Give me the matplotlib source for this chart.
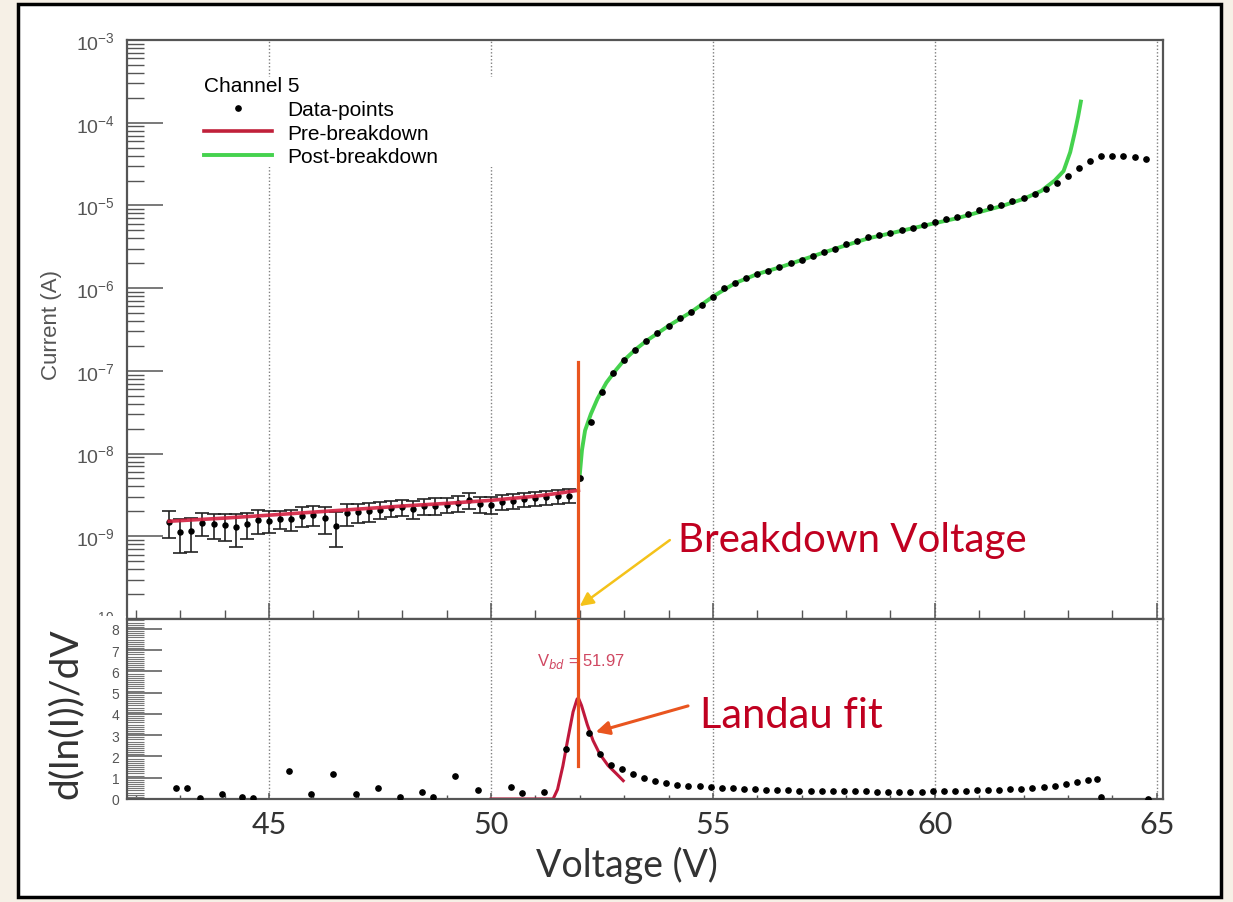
import numpy as np
import matplotlib
matplotlib.use("Agg")
import matplotlib.pyplot as plt
from matplotlib.patches import Rectangle
from matplotlib.lines import Line2D
from matplotlib.ticker import MultipleLocator, LogLocator, FuncFormatter, NullFormatter

plt.rcParams['font.family'] = ['Liberation Sans', 'DejaVu Sans']
plt.rcParams['mathtext.fontset'] = 'custom'
plt.rcParams['mathtext.rm'] = 'Liberation Sans'

# I-V scan, channel 5: below breakdown (current in nA, with errors)
pre_v = [42.75, 43.0, 43.25, 43.5, 43.75, 44.0, 44.25, 44.5, 44.75, 45.0, 45.25, 45.5,
         45.75, 46.0, 46.25, 46.5, 46.75, 47.0, 47.25, 47.5, 47.75, 48.0, 48.25, 48.5,
         48.75, 49.0, 49.25, 49.5, 49.75, 50.0, 50.25, 50.5, 50.75, 51.0, 51.25, 51.5, 51.75]
pre_na = [1.48, 1.12, 1.15, 1.45, 1.40, 1.38, 1.30, 1.42, 1.58, 1.55, 1.62, 1.60,
          1.78, 1.82, 1.68, 1.35, 1.90, 1.95, 2.02, 2.10, 2.18, 2.25, 2.15, 2.30,
          2.35, 2.42, 2.50, 2.75, 2.45, 2.40, 2.60, 2.68, 2.80, 2.90, 2.95, 3.05, 3.10]
pre_err_na = [0.52, 0.50, 0.50, 0.45, 0.48, 0.50, 0.55, 0.48, 0.50, 0.45, 0.40, 0.45,
              0.50, 0.48, 0.60, 0.60, 0.55, 0.50, 0.52, 0.50, 0.48, 0.50, 0.52, 0.50,
              0.52, 0.50, 0.55, 0.60, 0.55, 0.55, 0.52, 0.55, 0.55, 0.55, 0.58, 0.58, 0.60]

# above breakdown (A)
post_v = [52.0, 52.25, 52.5, 52.75, 53.0, 53.25, 53.5, 53.75, 54.0, 54.25, 54.5, 54.75,
          55.0, 55.25, 55.5, 55.75, 56.0, 56.25, 56.5, 56.75, 57.0, 57.25, 57.5, 57.75,
          58.0, 58.25, 58.5, 58.75, 59.0, 59.25, 59.5, 59.75, 60.0, 60.25, 60.5, 60.75,
          61.0, 61.25, 61.5, 61.75, 62.0, 62.25, 62.5, 62.75, 63.0, 63.25, 63.5, 63.75,
          64.0, 64.25, 64.5, 64.75]
post_i = [5.0e-9, 2.4e-8, 5.6e-8, 9.3e-8, 1.35e-7, 1.8e-7, 2.3e-7, 2.9e-7, 3.5e-7, 4.3e-7,
          5.1e-7, 6.2e-7, 7.9e-7, 1.0e-6, 1.15e-6, 1.32e-6, 1.48e-6, 1.62e-6, 1.78e-6, 2.0e-6,
          2.19e-6, 2.45e-6, 2.7e-6, 3.0e-6, 3.4e-6, 3.7e-6, 4.1e-6, 4.4e-6, 4.7e-6, 5.0e-6,
          5.4e-6, 5.75e-6, 6.3e-6, 6.8e-6, 7.2e-6, 7.9e-6, 8.7e-6, 9.5e-6, 1.02e-5, 1.12e-5,
          1.23e-5, 1.38e-5, 1.58e-5, 1.86e-5, 2.3e-5, 2.8e-5, 3.4e-5, 4.0e-5,
          4.0e-5, 4.0e-5, 3.8e-5, 3.6e-5]

# fitted curves
pre_fit_v = [42.75, 44.0, 45.0, 46.0, 47.0, 48.0, 49.0, 50.0, 51.0, 51.5, 51.97]
pre_fit_i = [1.52e-9, 1.66e-9, 1.80e-9, 1.96e-9, 2.13e-9, 2.32e-9, 2.5e-9, 2.72e-9,
             3.05e-9, 3.3e-9, 3.6e-9]
post_fit_v = [51.99, 52.05, 52.12, 52.25, 52.4, 52.6, 52.8, 53.0, 53.25, 53.5, 54.0, 54.5,
              55.0, 55.5, 56.0, 56.5, 57.0, 57.5, 58.0, 58.5, 59.0, 59.5, 60.0, 60.5,
              61.0, 61.5, 62.0, 62.4, 62.7, 62.9, 63.05, 63.15, 63.23, 63.29]
post_fit_i = [4.8e-9, 1.1e-8, 1.9e-8, 3.0e-8, 4.6e-8, 7.2e-8, 1.0e-7, 1.35e-7, 1.8e-7,
              2.3e-7, 3.5e-7, 5.1e-7, 7.9e-7, 1.15e-6, 1.48e-6, 1.78e-6, 2.19e-6, 2.7e-6,
              3.3e-6, 4.0e-6, 4.6e-6, 5.3e-6, 6.1e-6, 7.0e-6, 8.3e-6, 9.8e-6, 1.2e-5,
              1.5e-5, 2.0e-5, 2.6e-5, 4.4e-5, 7.5e-5, 1.2e-4, 1.8e-4]

# logarithmic derivative d(ln I)/dV
deriv_v = [42.9, 43.15, 43.45, 43.95, 44.4, 44.65, 45.45, 45.95, 46.45, 46.95, 47.45, 47.95,
           48.45, 48.7, 49.2, 49.7, 50.45, 50.7, 51.2, 51.7, 52.2, 52.45, 52.7, 52.95,
           53.2, 53.45, 53.7, 53.95, 54.2, 54.45, 54.7, 54.95, 55.2, 55.45, 55.7, 55.95,
           56.2, 56.45, 56.7, 56.95, 57.2, 57.45, 57.7, 57.95, 58.2, 58.45, 58.7, 58.95,
           59.2, 59.45, 59.7, 59.95, 60.2, 60.45, 60.7, 60.95, 61.2, 61.45, 61.7, 61.95,
           62.2, 62.45, 62.7, 62.95, 63.2, 63.45, 63.65, 63.75, 64.8]
deriv_val = [0.50, 0.50, 0.05, 0.24, 0.08, 0.05, 1.33, 0.24, 1.18, 0.24, 0.50, 0.08,
             0.31, 0.08, 1.10, 0.44, 0.55, 0.28, 0.33, 2.37, 3.10, 2.10, 1.60, 1.40,
             1.18, 0.97, 0.86, 0.75, 0.68, 0.63, 0.60, 0.55, 0.52, 0.50, 0.47, 0.45,
             0.43, 0.42, 0.40, 0.39, 0.38, 0.37, 0.37, 0.36, 0.36, 0.36, 0.35, 0.35,
             0.35, 0.35, 0.35, 0.36, 0.36, 0.37, 0.38, 0.40, 0.41, 0.43, 0.45, 0.48,
             0.52, 0.56, 0.62, 0.70, 0.78, 0.88, 0.95, 0.08, 0.02]

landau_v = [50.0, 51.4, 51.5, 51.62, 51.73, 51.85, 51.94, 51.97, 52.04, 52.17, 52.3,
            52.45, 52.64, 52.83, 52.98]
landau_val = [0.0, 0.0, 0.45, 1.55, 2.8, 4.1, 4.7, 4.75, 4.4, 3.5, 2.75, 2.12, 1.57, 1.18, 0.86]

v_bd = 51.97

RED_TXT = '#c00020'
ORANGE = '#e9551f'
GRID = '#808080'
SPINE = '#555555'
ROOT_TXT = '#555555'

fig = plt.figure(figsize=(12.33, 9.03), dpi=100, facecolor='#f6f0e6')
fig.add_artist(Rectangle((18 / 1233, 5 / 903), 1203 / 1233, 893 / 903,
                         transform=fig.transFigure, facecolor='white',
                         edgecolor='black', lw=2.5, zorder=-5))

ax_top = fig.add_axes([0.1030, 0.3134, 0.8402, 0.6412])
ax_bot = fig.add_axes([0.1030, 0.1141, 0.8402, 0.1993], sharex=ax_top)
ax_bot.set_zorder(2)

# hides the lower half of the 10^-10 label, as the lower pad does
fig.add_artist(Rectangle((24 / 1233, 1 - 806 / 903), 102 / 1233, 189 / 903,
                         transform=fig.transFigure, facecolor='white',
                         edgecolor='none', zorder=1))

for ax in (ax_top, ax_bot):
    ax.set_axisbelow(True)
    ax.grid(True, axis='x', which='major', ls=(0, (1, 1.5)), color=GRID, lw=1.0)
    for sp in ax.spines.values():
        sp.set_color(SPINE)
        sp.set_linewidth(1.6)

# ---- upper pad: I-V curve ----
ax_top.set_yscale('log')
ax_top.set_xlim(41.8, 65.14)
ax_top.set_ylim(1e-10, 1e-3)
ax_top.xaxis.set_major_locator(MultipleLocator(5))
ax_top.xaxis.set_minor_locator(MultipleLocator(1))
ax_top.yaxis.set_major_locator(LogLocator(base=10, numticks=20))
ax_top.yaxis.set_minor_locator(LogLocator(base=10, subs=np.arange(2, 10), numticks=20))
ax_top.yaxis.set_minor_formatter(NullFormatter())
ax_top.yaxis.set_major_formatter(
    FuncFormatter(lambda v, p: r'$\mathregular{10^{%d}}$' % round(np.log10(v))))
ax_top.tick_params(axis='y', which='major', direction='in', length=26, width=1.1,
                   color=SPINE, labelsize=14, labelcolor=ROOT_TXT, pad=9, right=False)
ax_top.tick_params(axis='y', which='minor', direction='in', length=12, width=1.0,
                   color=SPINE, right=False)
ax_top.tick_params(axis='x', which='major', direction='in', length=11.5, width=1.1,
                   color=SPINE, top=False, labelbottom=False)
ax_top.tick_params(axis='x', which='minor', direction='in', length=6.5, width=1.0,
                   color=SPINE, top=False)

pre_i = np.array(pre_na) * 1e-9
pre_err = np.array(pre_err_na) * 1e-9
ax_top.errorbar(pre_v, pre_i, yerr=pre_err, fmt='o', ms=3.6, color='black',
                ecolor='#222222', elinewidth=1.2, capsize=5, capthick=1.2, zorder=3)
ax_top.plot(post_fit_v, post_fit_i, color='#45d24e', lw=2.8, zorder=2)
ax_top.plot(post_v, post_i, 'o', ms=3.8, color='black', zorder=3)
ax_top.plot(pre_fit_v, pre_fit_i, color='#d42040', lw=2.6, alpha=0.9, zorder=4)
ax_top.axvline(v_bd, ymin=0, ymax=0.444, color=ORANGE, lw=2.3, zorder=5)

ax_top.set_ylabel('Current (A)', fontsize=16, color=ROOT_TXT)
ax_top.yaxis.set_label_coords(-0.063, 0.51)

# legend on a white block that interrupts the grid
ax_top.add_patch(Rectangle((0.061, 0.781), 0.304, 0.155, transform=ax_top.transAxes,
                           facecolor='white', edgecolor='none', zorder=1.5))
handles = [Line2D([], [], marker='o', ms=3.8, color='black', ls='none'),
           Line2D([], [], color='#c0203a', lw=2.6),
           Line2D([], [], color='#45d24e', lw=2.8)]
ax_top.legend(handles, ['Data-points', 'Pre-breakdown', 'Post-breakdown'],
              title='Channel 5', loc='upper left', bbox_to_anchor=(0.0745, 0.937),
              frameon=False, alignment='left', handlelength=3.27, handletextpad=0.72,
              labelspacing=0.22, borderpad=0, borderaxespad=0,
              prop={'family': 'Liberation Sans', 'size': 15},
              title_fontproperties={'family': 'Liberation Sans', 'size': 15})

ax_top.text(54.21, 6.6e-10, 'Breakdown Voltage', color=RED_TXT, fontsize=29,
            family='Lato', va='baseline', ha='left')
ax_top.annotate('', xy=(52.0, 1.43e-10), xytext=(54.03, 9.0e-10),
                arrowprops=dict(arrowstyle='-|>', color='#f4c21a', lw=1.8,
                                mutation_scale=20, shrinkA=0, shrinkB=0))

# ---- lower pad: d(ln I)/dV ----
ax_bot.set_ylim(0, 8.47)
ax_bot.yaxis.set_major_locator(MultipleLocator(1))
ax_bot.yaxis.set_minor_locator(MultipleLocator(0.1))
ax_bot.tick_params(axis='y', which='major', direction='in', length=25, width=1.1,
                   color=SPINE, labelsize=10, labelcolor=ROOT_TXT, pad=5.5, right=False)
ax_bot.tick_params(axis='y', which='minor', direction='in', length=12, width=0.8,
                   color='#777777', right=False)
ax_bot.tick_params(axis='x', which='major', direction='in', length=4.3, width=1.1,
                   color=SPINE, top=False, labelsize=22, labelcolor='#333333', pad=8)
ax_bot.tick_params(axis='x', which='minor', direction='in', length=2.9, width=1.0,
                   color=SPINE, top=False)
for lbl in ax_bot.get_xticklabels():
    lbl.set_family('Lato')

ax_bot.plot(landau_v, landau_val, color='#c0183c', lw=2.2, zorder=2)
ax_bot.plot(deriv_v, deriv_val, 'o', ms=3.8, color='black', zorder=3)
ax_bot.axvline(v_bd, ymin=0.183, ymax=1, color=ORANGE, lw=2.3, zorder=5)
ax_bot.text(52.03, 6.5, r'V$_{bd}$ = %.2f' % v_bd, color='#d04862', fontsize=12,
            ha='center', va='center', zorder=1.8)

ax_bot.text(54.71, 3.39, 'Landau fit', color=RED_TXT, fontsize=30, family='Lato',
            va='baseline', ha='left')
ax_bot.annotate('', xy=(52.36, 3.15), xytext=(54.44, 4.38),
                arrowprops=dict(arrowstyle='-|>', color=ORANGE, lw=2.2,
                                mutation_scale=20, shrinkA=0, shrinkB=0))

ax_bot.set_ylabel('d(ln(I))/dV', fontsize=28, family='Lato', color='#333333')
ax_bot.yaxis.set_label_coords(-0.042, 0.48)
ax_bot.set_xlabel('Voltage (V)', fontsize=27, family='Lato', color='#333333')
ax_bot.xaxis.set_label_coords(0.483, -0.262)

fig.savefig('out.png', dpi=100, facecolor=fig.get_facecolor())
